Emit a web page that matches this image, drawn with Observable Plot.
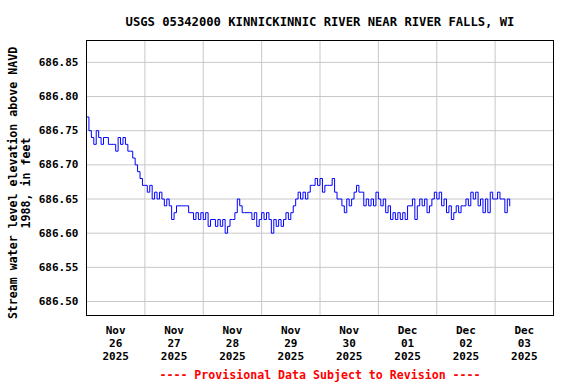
<!DOCTYPE html>
<html>
<head>
<meta charset="utf-8">
<script src="https://cdn.jsdelivr.net/npm/d3@7"></script>
<script src="https://cdn.jsdelivr.net/npm/@observablehq/plot@0.6"></script>
<style>
  html, body { margin: 0; padding: 0; background: white; }
</style>
</head>
<body>
<div id="chart"></div>
<script>
// Hourly gage heights (ft), starting 2025-11-26 00:00
const nov26 = [686.77, 686.75, 686.74, 686.73, 686.75, 686.74, 686.73, 686.74, 686.74, 686.73, 686.73, 686.73,
               686.72, 686.74, 686.73, 686.74, 686.73, 686.72, 686.72, 686.71, 686.70, 686.69, 686.68, 686.67];
const nov27 = [686.67, 686.66, 686.67, 686.65, 686.66, 686.65, 686.66, 686.65, 686.64, 686.65, 686.64, 686.62,
               686.63, 686.64, 686.64, 686.64, 686.64, 686.64, 686.63, 686.63, 686.62, 686.63, 686.62, 686.63];
const nov28 = [686.62, 686.63, 686.61, 686.62, 686.62, 686.61, 686.62, 686.61, 686.62, 686.60, 686.61, 686.62,
               686.62, 686.63, 686.65, 686.64, 686.63, 686.63, 686.63, 686.63, 686.62, 686.63, 686.61, 686.62];
const nov29 = [686.63, 686.62, 686.63, 686.62, 686.60, 686.62, 686.61, 686.62, 686.61, 686.62, 686.63, 686.62,
               686.63, 686.64, 686.65, 686.66, 686.65, 686.66, 686.65, 686.66, 686.67, 686.67, 686.68, 686.67];
const nov30 = [686.68, 686.66, 686.67, 686.67, 686.67, 686.68, 686.66, 686.65, 686.65, 686.64, 686.63, 686.65,
               686.64, 686.65, 686.66, 686.67, 686.66, 686.66, 686.64, 686.65, 686.64, 686.65, 686.64, 686.66];
const dec01 = [686.65, 686.64, 686.65, 686.63, 686.64, 686.62, 686.63, 686.62, 686.63, 686.62, 686.63, 686.62,
               686.64, 686.64, 686.65, 686.62, 686.64, 686.65, 686.64, 686.65, 686.63, 686.64, 686.65, 686.66];
const dec02 = [686.65, 686.66, 686.64, 686.65, 686.63, 686.64, 686.62, 686.63, 686.64, 686.63, 686.64, 686.64,
               686.65, 686.64, 686.66, 686.65, 686.66, 686.64, 686.65, 686.63, 686.65, 686.63, 686.66, 686.65];
const dec03 = [686.65, 686.66, 686.65, 686.65, 686.63, 686.65, 686.64];

const dayLabels = ["Nov\n26\n2025", "Nov\n27\n2025", "Nov\n28\n2025", "Nov\n29\n2025",
                   "Nov\n30\n2025", "Dec\n01\n2025", "Dec\n02\n2025", "Dec\n03\n2025"];
const yTicks = [686.50, 686.55, 686.60, 686.65, 686.70, 686.75, 686.80, 686.85];
const titleText = "USGS 05342000 KINNICKINNIC RIVER NEAR RIVER FALLS, WI";
const yLabelText = "Stream water level elevation above NAVD\n1988, in feet";
const footerText = "---- Provisional Data Subject to Revision ----";

const start = Date.UTC(2025, 10, 26, 0, 0);
const HOUR = 3600e3, DAY = 24 * HOUR;
const values = [...nov26, ...nov27, ...nov28, ...nov29, ...nov30, ...dec01, ...dec02, ...dec03];
const data = values.map((v, i) => ({t: new Date(start + i * HOUR), v}));
const midnights = d3.range(1, 8).map(i => new Date(start + i * DAY));
const noonLabels = dayLabels.map((label, i) => ({t: new Date(start + i * DAY + 12 * HOUR), label}));

const font = "'DejaVu Sans Mono', 'Liberation Mono', monospace";

const chart = Plot.plot({
  width: 576,
  height: 384,
  marginLeft: 86,
  marginRight: 23,
  marginTop: 40,
  marginBottom: 69,
  style: {fontFamily: font, fontWeight: "bold", fontSize: "11px", background: "white", color: "black"},
  x: {type: "utc", domain: [new Date(start), new Date(start + 8 * DAY)], axis: null},
  y: {domain: [686.4795, 686.882], axis: null},
  marks: [
    Plot.ruleX(midnights, {stroke: "#c8c8c8", strokeWidth: 1}),
    Plot.ruleY(yTicks, {stroke: "#c8c8c8", strokeWidth: 1}),
    Plot.line(data, {x: "t", y: "v", stroke: "#0000ff", strokeWidth: 1, curve: "step-after"}),
    Plot.frame({stroke: "black", strokeWidth: 1}),
    Plot.text(yTicks, {x: null, y: d => d, text: d => d.toFixed(2), frameAnchor: "left", textAnchor: "end", dx: -8, fontSize: 11, fill: "black"}),
    Plot.text(noonLabels, {x: "t", text: "label", frameAnchor: "bottom", lineAnchor: "top", dy: 9, lineHeight: 1.2, fontSize: 11, fill: "black"}),
    Plot.text([titleText], {frameAnchor: "top", dy: -23, fontSize: 12.2, fill: "black"}),
    Plot.text([yLabelText], {frameAnchor: "left", textAnchor: "middle", rotate: -90, dx: -67.5, dy: 5, lineHeight: 1.15, fontSize: 11.6, fill: "black"}),
    Plot.text([footerText], {frameAnchor: "bottom", dy: 63, fontSize: 11.6, fill: "#ff0000"})
  ]
});
document.getElementById("chart").appendChild(chart);
</script>
</body>
</html>
